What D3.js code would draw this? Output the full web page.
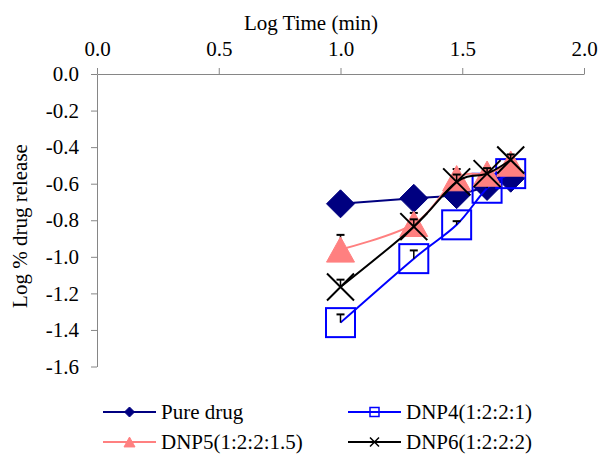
<!DOCTYPE html>
<html>
<head>
<meta charset="utf-8">
<script src="https://cdn.jsdelivr.net/npm/d3@7"></script>
<style>
  html, body { margin: 0; padding: 0; background: #fff; }
  svg { display: block; font-family: "Liberation Serif", "Times New Roman", serif; }
</style>
</head>
<body>
<svg id="chart" width="600" height="455"></svg>
<script>
// ---- data ----
const logTime = [1.0, 1.301, 1.477, 1.602, 1.699];
const seriesNames = ["Pure drug", "DNP4(1:2:2:1)", "DNP5(1:2:2:1.5)", "DNP6(1:2:2:2)"];
const pureDrug = [-0.71, -0.68, -0.66, -0.615, -0.57];
const dnp4 = [-1.36, -1.01, -0.825, -0.625, -0.545];
const dnp5 = [-0.96, -0.82, -0.57, -0.545, -0.49];
const dnp6 = [-1.165, -0.835, -0.59, -0.545, -0.47];
const pureDrugErr = [0.02, 0.02, 0.02, 0.02, 0.02];
const dnp4Err = [0.045, 0.045, 0.02, 0.02, 0.02];
const dnp5Err = [0.08, 0.06, 0.05, 0.03, 0.03];
const dnp6Err = [0.04, 0.04, 0.04, 0.03, 0.03];
const xTicks = [0.0, 0.5, 1.0, 1.5, 2.0];
const yTicks = [0.0, -0.2, -0.4, -0.6, -0.8, -1.0, -1.2, -1.4, -1.6];

const series = [
  { name: seriesNames[0], values: pureDrug, err: pureDrugErr, color: "#000080", marker: "diamond" },
  { name: seriesNames[1], values: dnp4, err: dnp4Err, color: "#0000FF", marker: "square" },
  { name: seriesNames[2], values: dnp5, err: dnp5Err, color: "#FF8080", marker: "triangle" },
  { name: seriesNames[3], values: dnp6, err: dnp6Err, color: "#000000", marker: "cross" }
];

const svg = d3.select("#chart");
const FS = 21;
const FONT = "Liberation Serif";
const axisColor = "#868686";

const x = d3.scaleLinear().domain([0, 2]).range([97, 584]);
const y = d3.scaleLinear().domain([-1.6, 0]).range([366.5, 74]);

// ---- axes ----
const xAxis = svg.append("g")
  .attr("transform", `translate(0,${y(0)})`)
  .call(d3.axisTop(x).tickValues(xTicks).tickFormat(d3.format(".1f")).tickSizeInner(6).tickSizeOuter(0).tickPadding(12));
const yAxis = svg.append("g")
  .attr("transform", `translate(${x(0)},0)`)
  .call(d3.axisLeft(y).tickValues(yTicks).tickFormat(d => d3.format(".1f")(d).replace("−", "-")).tickSizeInner(6).tickSizeOuter(0).tickPadding(12));

[xAxis, yAxis].forEach(g => {
  g.attr("font-family", FONT).attr("font-size", FS);
  g.selectAll("path.domain").attr("stroke", axisColor).attr("stroke-width", 1);
  g.selectAll(".tick line").attr("stroke", axisColor).attr("stroke-width", 1);
  g.selectAll("text").attr("font-size", FS).attr("font-family", FONT).attr("fill", "#000");
});

// axis titles
svg.append("text")
  .attr("x", 311).attr("y", 30)
  .attr("text-anchor", "middle")
  .attr("font-family", FONT)
  .attr("font-size", FS).attr("fill", "#000")
  .text("Log Time (min)");
svg.append("text")
  .attr("transform", "translate(27,226) rotate(-90)")
  .attr("text-anchor", "middle")
  .attr("font-family", FONT)
  .attr("font-size", FS).attr("fill", "#000")
  .text("Log % drug release");

// ---- markers ----
function drawMarker(g, type, cx, cy, size, color) {
  const h = size / 2;
  if (type === "diamond") {
    g.append("path")
      .attr("d", `M${cx},${cy - h}L${cx + h},${cy}L${cx},${cy + h}L${cx - h},${cy}Z`)
      .attr("fill", color).attr("stroke", color).attr("stroke-width", 1);
  } else if (type === "square") {
    g.append("rect")
      .attr("x", cx - h).attr("y", cy - h).attr("width", size).attr("height", size)
      .attr("fill", "none").attr("stroke", color).attr("stroke-width", size > 15 ? 2 : 1.5);
  } else if (type === "triangle") {
    const th = size * 0.9;
    g.append("path")
      .attr("d", `M${cx},${cy - th / 2}L${cx + h},${cy + th / 2}L${cx - h},${cy + th / 2}Z`)
      .attr("fill", color).attr("stroke", color).attr("stroke-width", 1);
  } else if (type === "cross") {
    g.append("path")
      .attr("d", `M${cx - h},${cy - h}L${cx + h},${cy + h}M${cx + h},${cy - h}L${cx - h},${cy + h}`)
      .attr("fill", "none").attr("stroke", color).attr("stroke-width", size > 15 ? 2 : 1.5);
  }
}

const line = d3.line()
  .x(d => x(d[0]))
  .y(d => y(d[1]))
  .curve(d3.curveCardinal.tension(0));

const markerSize = { diamond: 28, square: 29, triangle: 28, cross: 27 };

series.forEach(s => {
  const g = svg.append("g");
  const pts = logTime.map((t, i) => [t, s.values[i]]);
  g.append("path")
    .datum(pts)
    .attr("d", line)
    .attr("fill", "none")
    .attr("stroke", s.color)
    .attr("stroke-width", 2);
  // error bars (positive direction only)
  logTime.forEach((t, i) => {
    const cx = x(t), y0 = y(s.values[i]), y1 = y(s.values[i] + s.err[i]);
    g.append("line").attr("x1", cx).attr("x2", cx).attr("y1", y0).attr("y2", y1)
      .attr("stroke", "#000").attr("stroke-width", 1.5);
    g.append("line").attr("x1", cx - 4).attr("x2", cx + 4).attr("y1", y1).attr("y2", y1)
      .attr("stroke", "#000").attr("stroke-width", 2);
  });
  logTime.forEach((t, i) => {
    drawMarker(g, s.marker, x(t), y(s.values[i]), markerSize[s.marker], s.color);
  });
});

// ---- legend ----
const legendPos = [
  { lx: 103, ly: 412 },
  { lx: 348, ly: 412 },
  { lx: 103, ly: 442 },
  { lx: 348, ly: 442 }
];
const legendMarkerSize = { diamond: 10, square: 9, triangle: 11, cross: 9 };
series.forEach((s, i) => {
  const p = legendPos[i];
  const g = svg.append("g");
  g.append("line")
    .attr("x1", p.lx).attr("x2", p.lx + 53)
    .attr("y1", p.ly).attr("y2", p.ly)
    .attr("stroke", s.color).attr("stroke-width", 2);
  drawMarker(g, s.marker, p.lx + 26.5, p.ly, legendMarkerSize[s.marker], s.color);
  g.append("text")
    .attr("x", p.lx + 58).attr("y", p.ly)
    .attr("dy", "0.35em")
    .attr("font-family", FONT)
    .attr("font-size", FS).attr("fill", "#000")
    .text(s.name);
});
</script>
</body>
</html>
